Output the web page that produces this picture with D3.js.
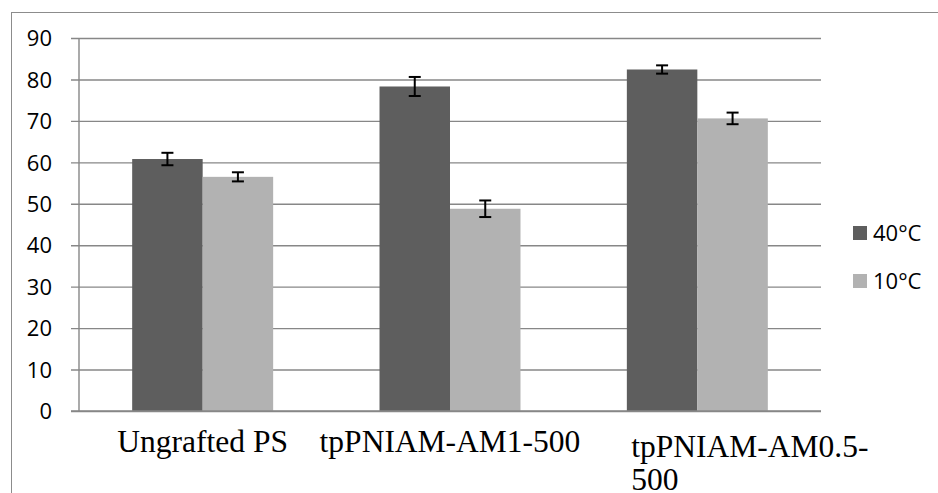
<!DOCTYPE html>
<html>
<head>
<meta charset="utf-8">
<script src="https://cdn.jsdelivr.net/npm/d3@7"></script>
<style>
  html, body { margin: 0; padding: 0; background: #ffffff; }
  svg { display: block; }
</style>
</head>
<body>
<svg id="chart" width="938" height="493"></svg>
<script>
// Sample categories (x axis)
const categories = ["Ungrafted PS", "tpPNIAM-AM1-500", "tpPNIAM-AM0.5-500"];
// Series names and their values with error (± one standard deviation)
const seriesNames = ["40°C", "10°C"];
const values40 = [60.8, 78.3, 82.4];
const errors40 = [1.5, 2.3, 1.0];
const values10 = [56.5, 48.8, 70.6];
const errors10 = [1.1, 2.0, 1.4];
// Y axis tick values
const yTicks = [0, 10, 20, 30, 40, 50, 60, 70, 80, 90];

const seriesColors = { "40°C": "#5e5e5e", "10°C": "#b2b2b2" };
const gridColor = "#878787";

const svg = d3.select("#chart");
const W = 938, H = 493;

// Plot area
const plot = { left: 79, right: 821, top: 38, bottom: 411 };

// Outer chart frame (runs off the right and bottom edges)
svg.append("rect")
  .attr("x", 11.5).attr("y", 12.5)
  .attr("width", W + 20).attr("height", H + 20)
  .attr("fill", "none").attr("stroke", "#8c8c8c").attr("stroke-width", 1);

const y = d3.scaleLinear().domain([0, 90]).range([plot.bottom, plot.top]);

const x = d3.scaleBand()
  .domain(categories)
  .range([plot.left, plot.right])
  .paddingInner(0.43)
  .paddingOuter(0.215);

const xs = d3.scaleBand().domain(seriesNames).range([0, x.bandwidth()]);

// Horizontal gridlines with short ticks left of the axis
const tickOut = 8;
const yAxis = d3.axisLeft(y)
  .tickValues(yTicks)
  .tickSize(0)
  .tickFormat(d3.format("d"));

const gy = svg.append("g")
  .attr("transform", `translate(${plot.left},0)`)
  .call(yAxis);
gy.select(".domain").remove();
gy.selectAll(".tick line")
  .attr("x1", -tickOut)
  .attr("x2", plot.right - plot.left)
  .attr("stroke", gridColor).attr("stroke-width", 1.4);
gy.selectAll(".tick text")
  .attr("x", -27)
  .attr("text-anchor", "end")
  .attr("dy", "0.35em")
  .attr("fill", "#000")
  .style("font-family", "'Open Sans', sans-serif")
  .style("font-size", "22px");

// Vertical axis line
svg.append("line")
  .attr("x1", plot.left).attr("x2", plot.left)
  .attr("y1", y(90)).attr("y2", y(0))
  .attr("stroke", gridColor).attr("stroke-width", 1.4);

// Bars
const rows = categories.map((c, i) => ({
  cat: c,
  items: [
    { s: "40°C", v: values40[i], e: errors40[i] },
    { s: "10°C", v: values10[i], e: errors10[i] }
  ]
}));

const groups = svg.append("g").selectAll("g")
  .data(rows).join("g")
  .attr("transform", d => `translate(${x(d.cat)},0)`);

groups.selectAll("rect")
  .data(d => d.items).join("rect")
  .attr("x", d => xs(d.s))
  .attr("y", d => y(d.v))
  .attr("width", xs.bandwidth())
  .attr("height", d => y(0) - y(d.v))
  .attr("fill", d => seriesColors[d.s]);

// Error bars
const capHalf = 6;
const eb = groups.selectAll("g.err")
  .data(d => d.items).join("g")
  .attr("class", "err")
  .attr("stroke", "#000").attr("stroke-width", 2);
eb.append("line")
  .attr("x1", d => xs(d.s) + xs.bandwidth() / 2)
  .attr("x2", d => xs(d.s) + xs.bandwidth() / 2)
  .attr("y1", d => y(d.v + d.e))
  .attr("y2", d => y(d.v - d.e));
eb.append("line")
  .attr("x1", d => xs(d.s) + xs.bandwidth() / 2 - capHalf)
  .attr("x2", d => xs(d.s) + xs.bandwidth() / 2 + capHalf)
  .attr("y1", d => y(d.v + d.e))
  .attr("y2", d => y(d.v + d.e));
eb.append("line")
  .attr("x1", d => xs(d.s) + xs.bandwidth() / 2 - capHalf)
  .attr("x2", d => xs(d.s) + xs.bandwidth() / 2 + capHalf)
  .attr("y1", d => y(d.v - d.e))
  .attr("y2", d => y(d.v - d.e));

// Baseline (category axis)
svg.append("line")
  .attr("x1", plot.left - tickOut).attr("x2", plot.right)
  .attr("y1", y(0)).attr("y2", y(0))
  .attr("stroke", gridColor).attr("stroke-width", 1.4);

// Category labels (the long one wraps onto a second line)
const labelFont = "'Liberation Serif', 'Times New Roman', serif";
const labelG = svg.append("g")
  .style("font-family", labelFont)
  .style("font-size", "31.5px")
  .attr("fill", "#000");

const wrapped = {
  "tpPNIAM-AM0.5-500": ["tpPNIAM-AM0.5-", "500"]
};
categories.forEach(c => {
  const cx = x(c) + x.bandwidth() / 2;
  if (wrapped[c]) {
    const t = labelG.append("text")
      .attr("x", cx - 66).attr("y", 457)
      .attr("text-anchor", "start");
    wrapped[c].forEach((line, k) => {
      t.append("tspan").attr("x", cx - 66).attr("dy", k === 0 ? 0 : 33).text(line);
    });
  } else {
    labelG.append("text")
      .attr("x", cx).attr("y", 452)
      .attr("text-anchor", "middle")
      .text(c);
  }
});

// Legend
const legend = svg.append("g").attr("transform", "translate(853,233)");
const li = legend.selectAll("g").data(seriesNames).join("g")
  .attr("transform", (d, i) => `translate(0,${i * 48})`);
li.append("rect")
  .attr("x", 0).attr("y", -7).attr("width", 14).attr("height", 14)
  .attr("fill", d => seriesColors[d]);
li.append("text")
  .attr("x", 20).attr("y", 0).attr("dy", "0.35em")
  .style("font-family", "'Open Sans', sans-serif")
  .style("font-size", "22px")
  .attr("fill", "#000")
  .text(d => d);
</script>
</body>
</html>
